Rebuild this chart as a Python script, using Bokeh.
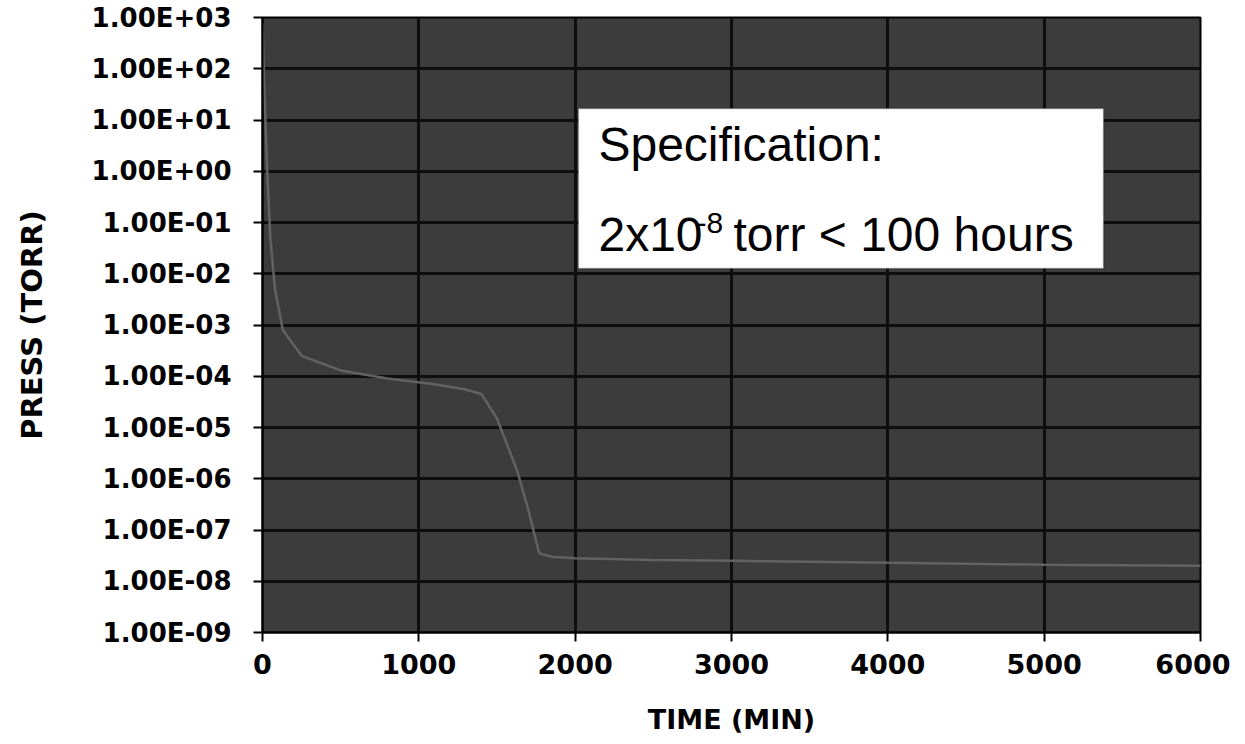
from bokeh.plotting import figure
from bokeh.models import FixedTicker, BoxAnnotation, Label
from bokeh.embed import file_html
from bokeh.resources import INLINE

# ---- data ----
time_min = [0, 15, 30, 50, 80, 130, 250, 500, 800, 1100, 1300, 1400, 1500,
            1630, 1700, 1770, 1850, 2000, 2500, 3000, 3500, 4000, 4500, 5000, 5500, 6000]
press_torr = [760, 20, 1.0, 5e-2, 5e-3, 8e-4, 2.5e-4, 1.3e-4, 9e-5, 7e-5, 5.5e-5, 4.5e-5, 1.5e-5,
              1.4e-6, 2.5e-7, 3.5e-8, 3.0e-8, 2.8e-8, 2.6e-8, 2.5e-8, 2.4e-8, 2.3e-8, 2.2e-8, 2.1e-8, 2.05e-8, 2.0e-8]

x_ticks = [0, 1000, 2000, 3000, 4000, 5000, 6000]
y_ticks = [1e-9, 1e-8, 1e-7, 1e-6, 1e-5, 1e-4, 1e-3, 1e-2, 1e-1, 1e0, 1e1, 1e2, 1e3]
y_tick_labels = ["1.00E-09", "1.00E-08", "1.00E-07", "1.00E-06", "1.00E-05", "1.00E-04",
                 "1.00E-03", "1.00E-02", "1.00E-01", "1.00E+00", "1.00E+01", "1.00E+02", "1.00E+03"]

spec_title = "Specification:"
spec_main = "2x10"
spec_exp = "-8"
spec_rest = "torr < 100 hours"

BOLD_FONT = "DejaVu Sans"
BOX_FONT = "Liberation Sans"

p = figure(frame_width=938, frame_height=615,
           min_border_left=262, min_border_right=30, min_border_top=17, min_border_bottom=100,
           y_axis_type="log", x_range=(0, 6000), y_range=(1e-9, 1e3),
           output_backend="svg", toolbar_location=None)

p.background_fill_color = "#3c3c3c"
p.border_fill_color = "white"
p.outline_line_color = "black"
p.outline_line_width = 2

# grids
for g in (p.xgrid, p.ygrid):
    g.grid_line_color = "#0e0e0e"
    g.grid_line_width = 3

# axes
p.xaxis.ticker = FixedTicker(ticks=x_ticks, minor_ticks=[])
p.yaxis.ticker = FixedTicker(ticks=y_ticks, minor_ticks=[])
p.yaxis.major_label_overrides = {t: s for t, s in zip(y_ticks, y_tick_labels)}

for ax in (p.xaxis, p.yaxis):
    ax.axis_line_color = "black"
    ax.axis_line_width = 2
    ax.major_tick_line_color = "black"
    ax.major_tick_line_width = 2
    ax.major_tick_in = 0
    ax.major_tick_out = 9
    ax.minor_tick_line_color = None
    ax.major_label_text_font = BOLD_FONT
    ax.major_label_text_font_style = "bold"
    ax.major_label_text_color = "black"
    ax.axis_label_text_font = BOLD_FONT
    ax.axis_label_text_font_style = "bold"
    ax.axis_label_text_color = "black"

p.yaxis.major_label_text_font_size = "26px"
p.xaxis.major_label_text_font_size = "27px"
p.yaxis.major_label_standoff = 22
p.xaxis.major_label_standoff = 12
p.xaxis.axis_label = "TIME (MIN)"
p.yaxis.axis_label = "PRESS (TORR)"
p.xaxis.axis_label_text_font_size = "27px"
p.yaxis.axis_label_text_font_size = "29px"
p.xaxis.axis_label_standoff = 27
p.yaxis.axis_label_standoff = 40

# data line
p.line(time_min, press_torr, line_color="#626262", line_width=2.5)

# specification box
box = BoxAnnotation(left=2020, right=5380, top=10 ** 1.224, bottom=10 ** -1.898,
                    fill_color="white", fill_alpha=1.0,
                    line_color="#222222", line_width=1.5)
p.add_layout(box)

p.add_layout(Label(x=2149, y=10 ** 0.522, text=spec_title, text_font=BOX_FONT,
                   text_font_size="48px", text_color="black", text_baseline="alphabetic"))
p.add_layout(Label(x=2149, y=10 ** -1.234, text=spec_main, text_font=BOX_FONT,
                   text_font_size="48px", text_color="black", text_baseline="alphabetic"))
p.add_layout(Label(x=2149, y=10 ** -1.234, x_offset=98, y_offset=11, text=spec_exp, text_font=BOX_FONT,
                   text_font_size="30px", text_color="black", text_baseline="alphabetic"))
p.add_layout(Label(x=2149, y=10 ** -1.234, x_offset=135, text=spec_rest, text_font=BOX_FONT,
                   text_font_size="48px", text_color="black", text_baseline="alphabetic"))

open("out.html", "w").write(file_html(p, INLINE))
